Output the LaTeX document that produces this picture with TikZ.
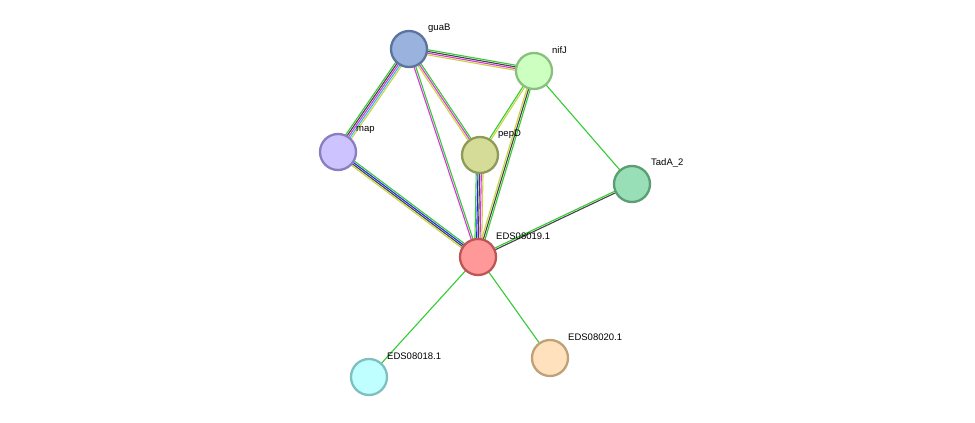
\documentclass[tikz,border=0pt]{standalone}
\usepackage{fontspec}
\setmainfont{Liberation Sans}
\usetikzlibrary{calc,backgrounds}
\definecolor{eg}{HTML}{33CC33}
\definecolor{ek}{HTML}{444444}
\definecolor{em}{HTML}{DD33DD}
\definecolor{ey}{HTML}{C8D43C}
\definecolor{eb}{HTML}{2222EE}
\definecolor{ec}{HTML}{33BBEE}
\newcommand\medge[4]{%
  \foreach \c [count=\i] in {#4} {%
    \pgfmathsetmacro\o{(\i-(#3+1)/2)*1.7}%
    \draw[line width=1.1pt,draw=\c] ($(#1)!\o pt!90:(#2)$) -- ($(#2)!\o pt!-90:(#1)$);
  }}
\begin{document}
\begin{tikzpicture}[x=1pt,y=-1pt,
  prot/.style={circle,minimum size=36pt,inner sep=0pt,line width=2.3pt},
  lab/.style={anchor=west,font=\fontsize{9.5}{10}\selectfont,inner sep=0pt}]
\useasboundingbox (0,0) rectangle (975,423);
\node[prot,fill={rgb,255:red,154;green,179;blue,222},draw={rgb,255:red,90;green,116;blue,158}] (guaB) at (409,49) {};
\node[prot,fill={rgb,255:red,204;green,255;blue,192},draw={rgb,255:red,136;green,192;blue,126}] (nifJ) at (534,71) {};
\node[prot,fill={rgb,255:red,204;green,195;blue,255},draw={rgb,255:red,138;green,126;blue,192}] (map) at (338,152) {};
\node[prot,fill={rgb,255:red,212;green,220;blue,152},draw={rgb,255:red,142;green,154;blue,88}] (pepD) at (480,155) {};
\node[prot,fill={rgb,255:red,152;green,222;blue,182},draw={rgb,255:red,90;green,158;blue,114}] (TadA) at (632,184) {};
\node[prot,fill={rgb,255:red,255;green,153;blue,153},draw={rgb,255:red,192;green,85;blue,85}] (E19) at (478,257) {};
\node[prot,fill={rgb,255:red,191;green,255;blue,255},draw={rgb,255:red,127;green,191;blue,191}] (E18) at (369,377) {};
\node[prot,fill={rgb,255:red,255;green,226;blue,189},draw={rgb,255:red,192;green,160;blue,119}] (E20) at (550,358) {};
\node[lab] (lguaB) at (428,28) {guaB};
\node[lab] (lnifJ) at (552,50) {nifJ};
\node[lab] (lmap) at (356,130) {map};
\node[lab] (lpepD) at (498,134) {pepD};
\node[lab] (lTadA) at (651,163) {TadA\_2};
\node[lab] (l19) at (496,236) {EDS08019.1};
\node[lab] (l18) at (387,356) {EDS08018.1};
\node[lab] (l20) at (568,337) {EDS08020.1};
\begin{scope}[on background layer]
\fill[white] (0,0) rectangle (975,423);
\medge{guaB}{nifJ}{4}{ey,em,ek,eg}
\medge{guaB}{map}{5}{eg,ek,em,ec,ey}
\medge{guaB}{pepD}{3}{ey,em,eg}
\medge{guaB}{E19}{2}{em,eg}
\medge{map}{E19}{4}{ey,ek,eb,eg}
\medge{pepD}{E19}{5}{eg,eb,ek,em,ey}
\medge{nifJ}{pepD}{2}{eg,ey}
\medge{nifJ}{E19}{3}{ey,ek,eg}
\medge{nifJ}{TadA}{1}{eg}
\medge{TadA}{E19}{2}{eg,ek}
\medge{E19}{E18}{1}{eg}
\medge{E19}{E20}{1}{eg}
\end{scope}
\end{tikzpicture}
\end{document}
